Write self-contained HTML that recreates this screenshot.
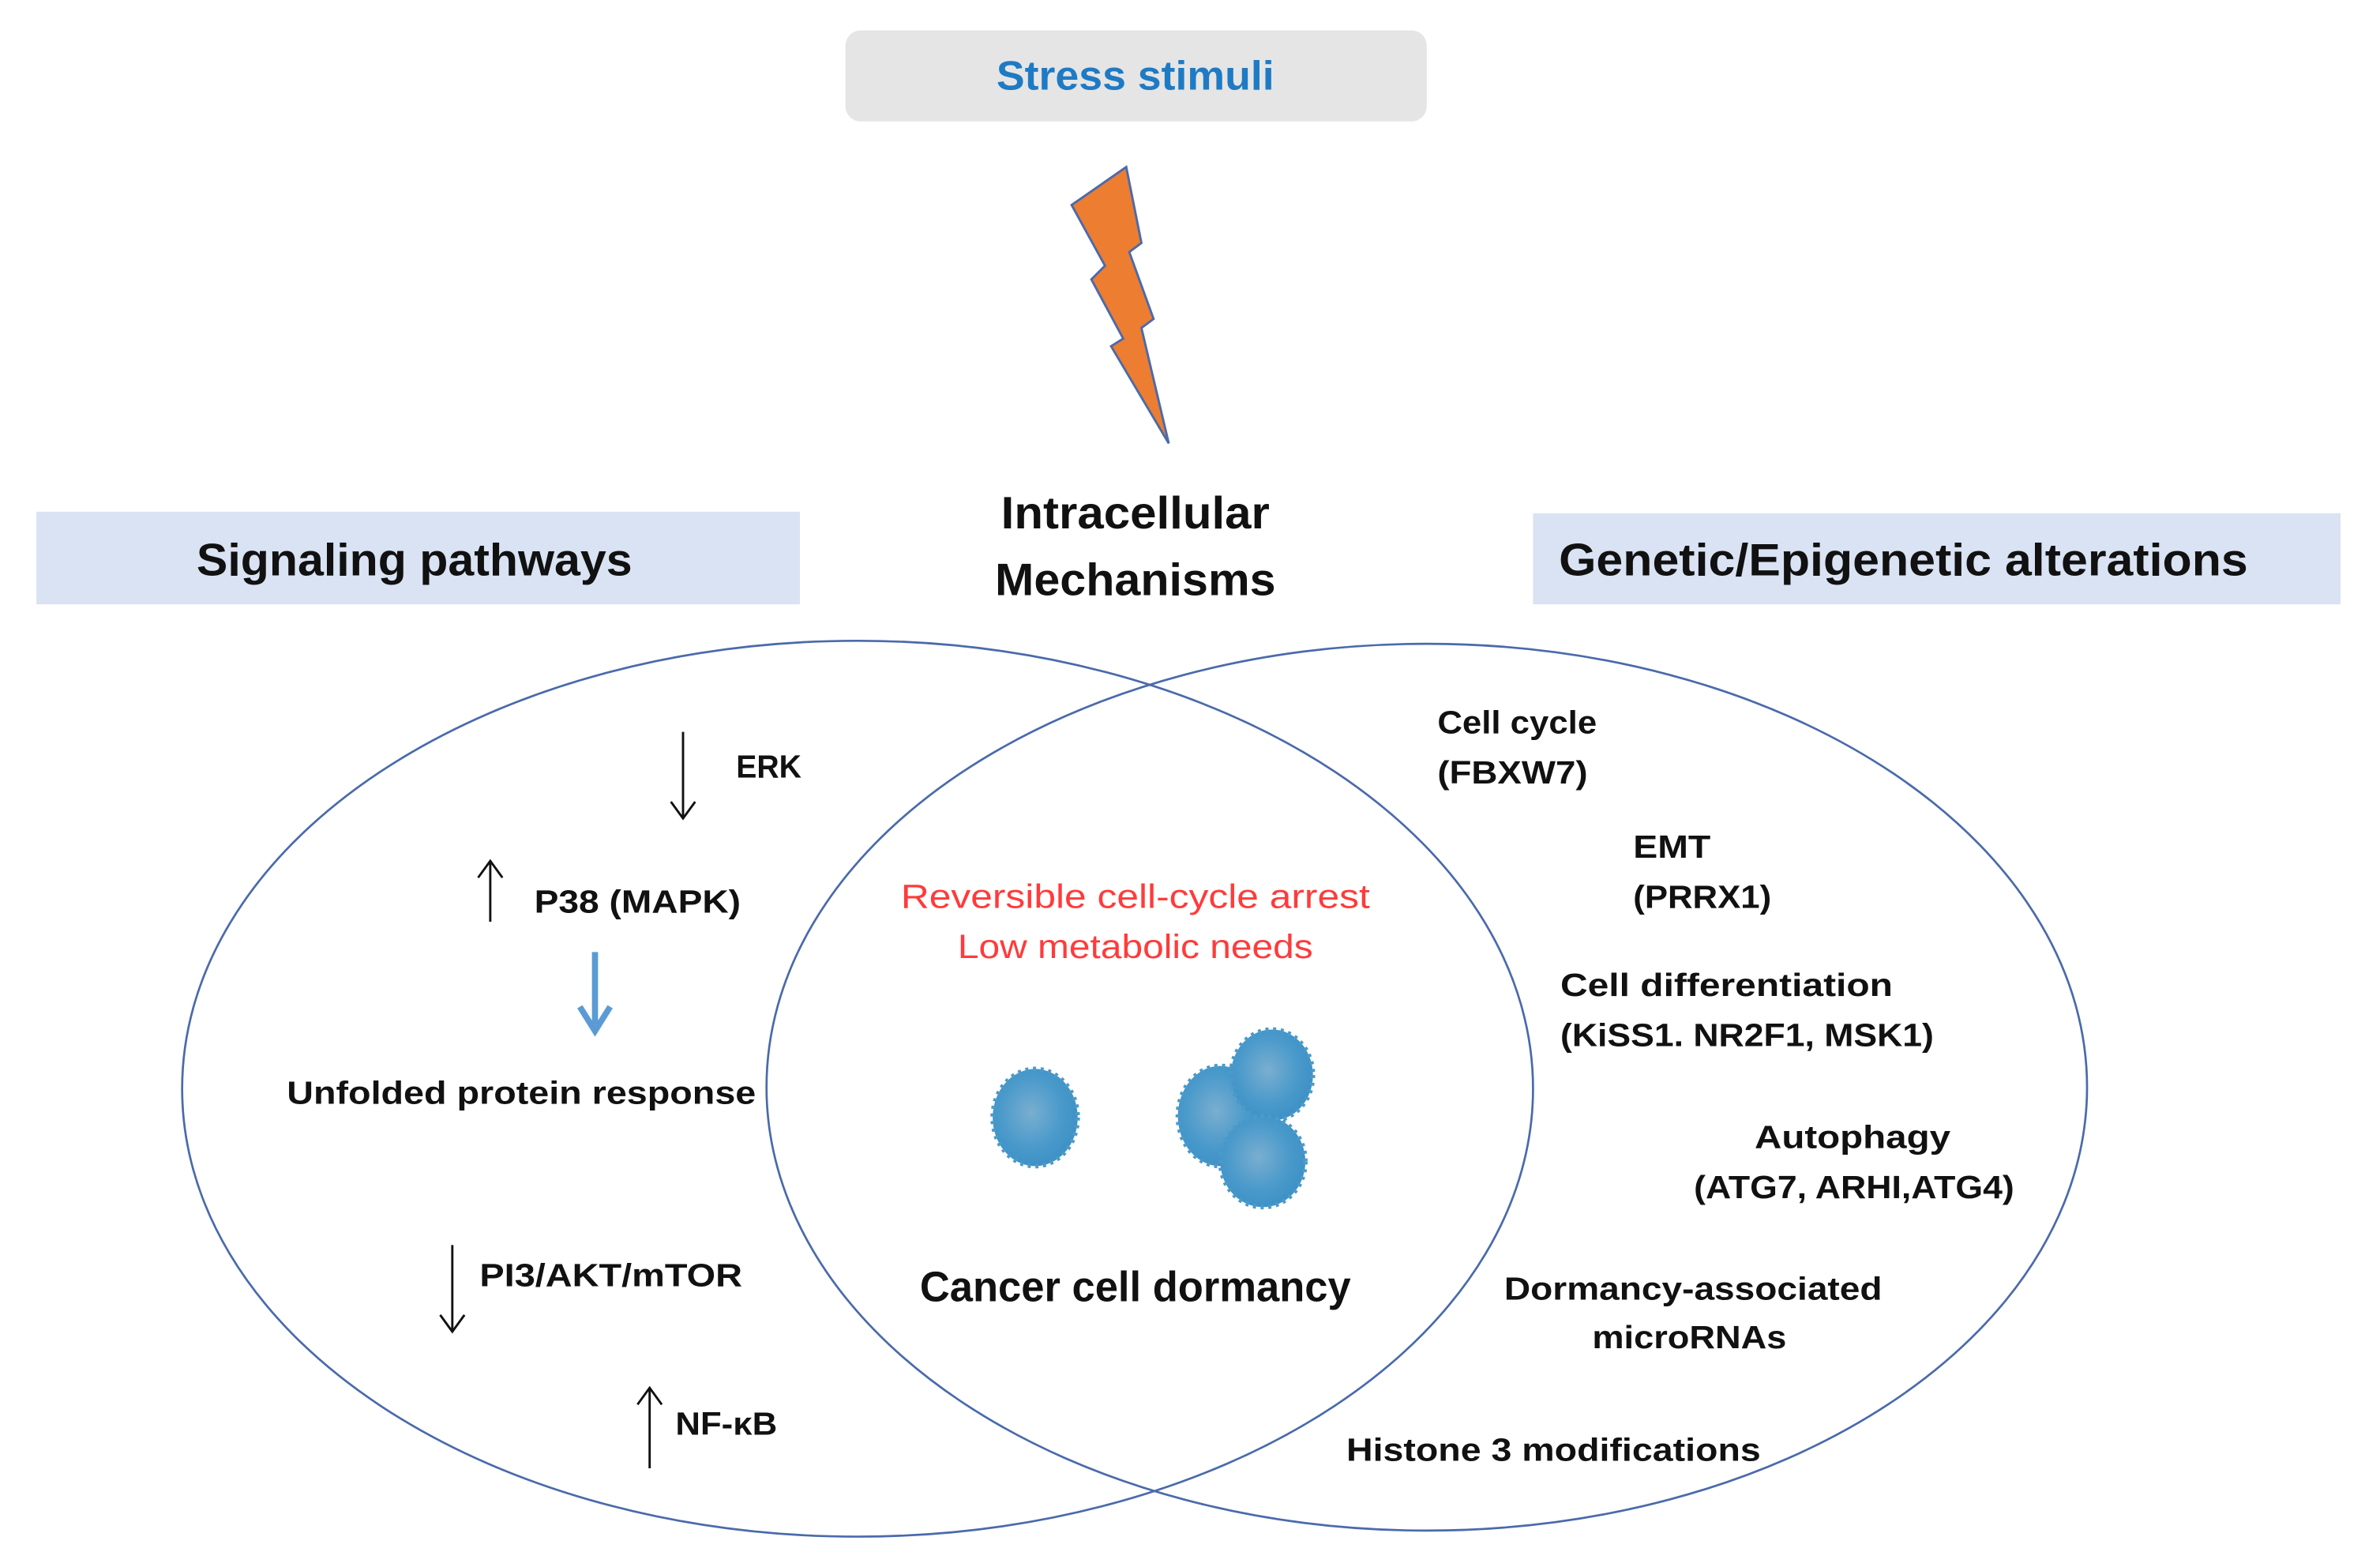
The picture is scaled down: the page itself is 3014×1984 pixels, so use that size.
<!DOCTYPE html>
<html><head><meta charset="utf-8"><style>
html,body{margin:0;padding:0;background:#fff;}
svg{display:block;}
text{font-family:"Liberation Sans",sans-serif;}
.b{font-weight:bold;fill:#111;font-size:21px;}
</style></head><body>
<svg width="3014" height="1984" viewBox="0 0 1568 1032" preserveAspectRatio="none" xmlns="http://www.w3.org/2000/svg">
<defs>
<radialGradient id="cg" cx="0.45" cy="0.45" r="0.6">
<stop offset="0" stop-color="#7aaed0"/><stop offset="0.6" stop-color="#4a9acb"/><stop offset="1" stop-color="#3c8fc4"/>
</radialGradient>
</defs>
<rect x="557" y="20" width="383" height="60" rx="10" fill="#e5e5e5"/>
<text x="748" y="59" text-anchor="middle" font-size="27" fill="#1f7ac4" font-weight="bold" textLength="183" lengthAdjust="spacingAndGlyphs">Stress stimuli</text>
<polygon points="742,110 752,160 744,166 760,210 752,216 770,292 732,228 740,223 719,184 728,175 706,135" fill="#ed7d31" stroke="#4a6aab" stroke-width="1.5"/>
<text x="748" y="348" text-anchor="middle" font-size="30" font-weight="bold" fill="#111" textLength="177" lengthAdjust="spacingAndGlyphs">Intracellular</text>
<text x="748" y="392" text-anchor="middle" font-size="30" font-weight="bold" fill="#111" textLength="185" lengthAdjust="spacingAndGlyphs">Mechanisms</text>
<rect x="24" y="337" width="503" height="61" fill="#dae3f3"/>
<text x="273" y="379" text-anchor="middle" font-size="30" font-weight="bold" fill="#111" textLength="287" lengthAdjust="spacingAndGlyphs">Signaling  pathways</text>
<rect x="1010" y="338" width="532" height="60" fill="#dae3f3"/>
<text x="1254" y="379" text-anchor="middle" font-size="30" font-weight="bold" fill="#111" textLength="454" lengthAdjust="spacingAndGlyphs">Genetic/Epigenetic alterations</text>
<ellipse cx="565" cy="717" rx="445" ry="295" fill="none" stroke="#4a6aab" stroke-width="1.4"/>
<ellipse cx="940" cy="716" rx="435" ry="292" fill="none" stroke="#4a6aab" stroke-width="1.4"/>
<g stroke="#111" stroke-width="1.5" fill="none">
<path d="M450 482 V539 M442 528 L450 539 L458 528"/>
<path d="M323 607 V567 M315 578 L323 567 L331 578"/>
<path d="M298 820 V877 M290 866 L298 877 L306 866"/>
<path d="M428 967 V914 M420 925 L428 914 L436 925"/>
</g>
<path d="M392 627 V675 M382 663 L392 679 L402 663" stroke="#5b9bd5" stroke-width="4" fill="none"/>
<text class="b" x="485" y="512" textLength="43" lengthAdjust="spacingAndGlyphs">ERK</text>
<text class="b" x="352" y="601" textLength="136" lengthAdjust="spacingAndGlyphs">P38 (MAPK)</text>
<text class="b" x="189" y="727" textLength="309" lengthAdjust="spacingAndGlyphs">Unfolded protein response</text>
<text class="b" x="316" y="847" textLength="173" lengthAdjust="spacingAndGlyphs">PI3/AKT/mTOR</text>
<text class="b" x="445" y="945" textLength="67" lengthAdjust="spacingAndGlyphs">NF-κB</text>
<text x="748" y="598" text-anchor="middle" font-size="22" fill="#ff3b3b" textLength="309" lengthAdjust="spacingAndGlyphs">Reversible  cell-cycle  arrest</text>
<text x="748" y="631" text-anchor="middle" font-size="22" fill="#ff3b3b" textLength="234" lengthAdjust="spacingAndGlyphs">Low metabolic needs</text>
<g fill="url(#cg)" stroke="#4a9acb" stroke-width="3" stroke-dasharray="2 3">
<ellipse cx="682" cy="736" rx="28" ry="32"/>
<ellipse cx="804" cy="735" rx="28" ry="33"/>
<ellipse cx="838" cy="708" rx="27" ry="30"/>
<ellipse cx="832" cy="765" rx="28" ry="30"/>
</g>
<text x="748" y="857" text-anchor="middle" font-size="28" font-weight="bold" fill="#111" textLength="284" lengthAdjust="spacingAndGlyphs">Cancer cell dormancy</text>
<text class="b" x="947" y="483" textLength="105" lengthAdjust="spacingAndGlyphs">Cell cycle</text>
<text class="b" x="947" y="516" textLength="99" lengthAdjust="spacingAndGlyphs">(FBXW7)</text>
<text class="b" x="1076" y="565" textLength="51" lengthAdjust="spacingAndGlyphs">EMT</text>
<text class="b" x="1076" y="598" textLength="91" lengthAdjust="spacingAndGlyphs">(PRRX1)</text>
<text class="b" x="1028" y="656" textLength="219" lengthAdjust="spacingAndGlyphs">Cell differentiation</text>
<text class="b" x="1028" y="689" textLength="246" lengthAdjust="spacingAndGlyphs">(KiSS1. NR2F1, MSK1)</text>
<text class="b" x="1156" y="756" textLength="129" lengthAdjust="spacingAndGlyphs">Autophagy</text>
<text class="b" x="1116" y="789" textLength="211" lengthAdjust="spacingAndGlyphs">(ATG7, ARHI,ATG4)</text>
<text class="b" x="991" y="856" textLength="249" lengthAdjust="spacingAndGlyphs">Dormancy-associated</text>
<text class="b" x="1049" y="888" textLength="128" lengthAdjust="spacingAndGlyphs">microRNAs</text>
<text class="b" x="887" y="962" textLength="273" lengthAdjust="spacingAndGlyphs">Histone 3 modifications</text>
</svg>
</body></html>
